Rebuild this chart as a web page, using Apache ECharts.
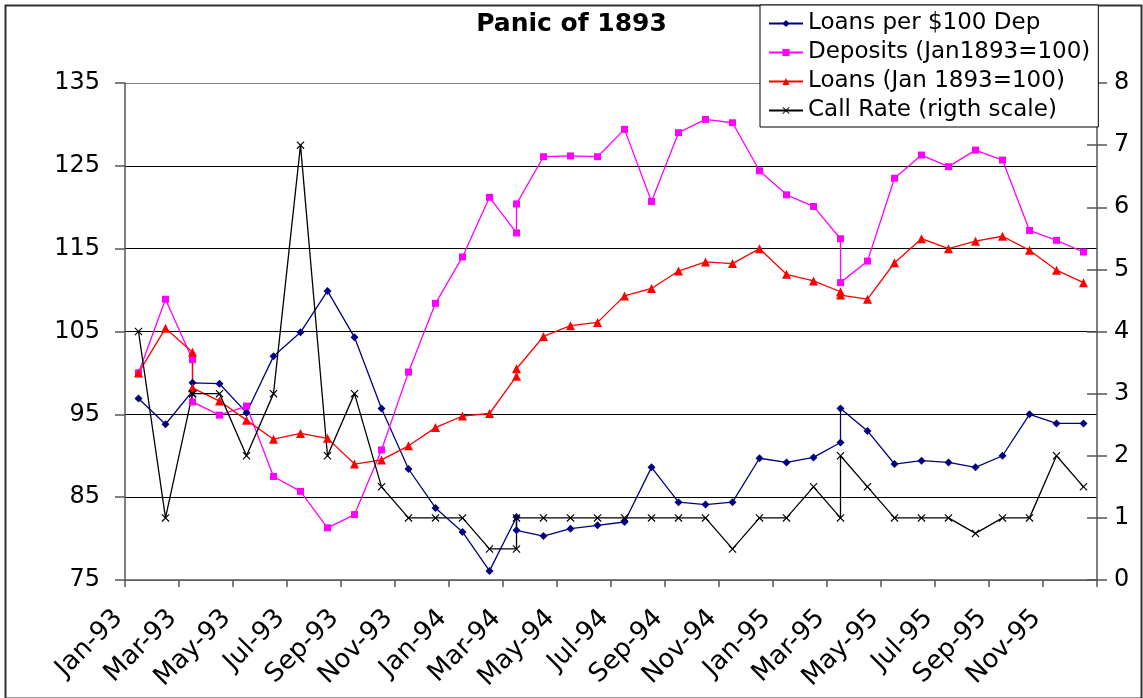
<!DOCTYPE html>
<html><head><meta charset="utf-8">
<script src="https://cdn.jsdelivr.net/npm/echarts@6/dist/echarts.min.js"></script>
<style>html,body{margin:0;padding:0;background:#fff}#chart{width:1143px;height:698px}</style>
</head><body><div id="chart"></div>
<script>
// Month buckets of the date axis (tick labels every second month)
const monthLabels = ['Jan-93','Feb-93','Mar-93','Apr-93','May-93','Jun-93','Jul-93','Aug-93','Sep-93','Oct-93','Nov-93','Dec-93',
  'Jan-94','Feb-94','Mar-94','Apr-94','May-94','Jun-94','Jul-94','Aug-94','Sep-94','Oct-94','Nov-94','Dec-94',
  'Jan-95','Feb-95','Mar-95','Apr-95','May-95','Jun-95','Jul-95','Aug-95','Sep-95','Oct-95','Nov-95','Dec-95'];
// Observation months (some months hold two observations)
const obsMonths = ['Jan-93','Feb-93','Mar-93','Mar-93','Apr-93','May-93','Jun-93','Jul-93','Aug-93','Sep-93','Oct-93','Nov-93','Dec-93',
  'Jan-94','Feb-94','Mar-94','Mar-94','Apr-94','May-94','Jun-94','Jul-94','Aug-94','Sep-94','Oct-94','Nov-94','Dec-94',
  'Jan-95','Feb-95','Mar-95','Mar-95','Apr-95','May-95','Jun-95','Jul-95','Aug-95','Sep-95','Oct-95','Nov-95','Dec-95'];
const loansPerDep = [96.9,93.8,97.8,98.8,98.7,95.2,102.0,104.9,109.9,104.3,95.7,88.4,83.7,
  80.8,76.1,82.6,81.0,80.3,81.2,81.6,82.0,88.6,84.4,84.1,84.4,89.7,
  89.2,89.8,91.6,95.7,93.0,89.0,89.4,89.2,88.6,90.0,95.0,93.9,93.9];
const deposits = [100.0,108.9,101.6,96.5,94.9,96.0,87.5,85.7,81.3,82.9,90.7,100.1,108.4,
  114.0,121.2,116.9,120.4,126.1,126.2,126.1,129.4,120.7,129.0,130.6,130.2,124.4,
  121.5,120.1,116.2,110.9,113.5,123.5,126.3,124.9,126.9,125.7,117.2,116.0,114.6];
const loans = [100.0,105.4,102.5,98.2,96.6,94.3,92.0,92.7,92.1,89.0,89.5,91.2,93.4,
  94.8,95.1,99.6,100.5,104.4,105.7,106.1,109.3,110.2,112.3,113.4,113.2,115.0,
  111.9,111.1,109.8,109.4,108.9,113.3,116.2,115.0,115.9,116.5,114.8,112.4,110.9];
const callRate = [4,1,3,3,3,2,3,7,2,3,1.5,1,1,
  1,0.5,0.5,1,1,1,1,1,1,1,1,0.5,1,
  1,1.5,1,2,1.5,1,1,1,0.75,1,1,2,1.5];
const seriesNames = ['Loans per $100 Dep','Deposits (Jan1893=100)','Loans (Jan 1893=100)','Call Rate (rigth scale)'];
const titleText = 'Panic of 1893';
const leftAxis = {min: 75, max: 135, interval: 10};
const rightAxis = {min: 0, max: 8, interval: 1};

const FONT = 'DejaVu Sans';
const xs = obsMonths.map(m => monthLabels.indexOf(m) + 0.5);
const pts = vals => vals.map((v, i) => [xs[i], v]);
const X_SYMBOL = 'path://M0,1L1,0L10,9L9,10Z M9,0L10,1L1,10L0,9Z';

const chart = echarts.init(document.getElementById('chart'), null, {renderer: 'canvas'});
const mkLine = (name, data, color, symbol, size, yIdx) => ({
  name, type: 'line', data: pts(data), yAxisIndex: yIdx,
  symbol, symbolSize: size, showSymbol: true,
  lineStyle: {color, width: 1.3},
  itemStyle: {color, borderColor: color, borderWidth: 0},
  emphasis: {disabled: true}, animation: false
});

chart.setOption({
  backgroundColor: '#fff',
  animation: false,
  title: {text: titleText, left: 'center', top: 7,
    textStyle: {fontFamily: FONT, fontSize: 25, fontWeight: 'bold', color: '#000'}},
  legend: {
    data: seriesNames, orient: 'vertical', left: 760, top: 5,
    padding: [7, 8, 5, 8], itemGap: 6, itemWidth: 34, itemHeight: 9,
    backgroundColor: '#fff', borderColor: '#000', borderWidth: 1, borderRadius: 0,
    textStyle: {fontFamily: FONT, fontSize: 23, color: '#000'}
  },
  grid: {left: 125, right: 46, top: 83, bottom: 118, containLabel: false, outerBoundsMode: 'none'},
  xAxis: {
    type: 'value', min: 0, max: monthLabels.length, interval: 2,
    axisLine: {show: true, lineStyle: {color: '#555', width: 1.5}},
    axisTick: {show: true, length: 7, lineStyle: {color: '#555', width: 1.5}},
    splitLine: {show: false},
    axisLabel: {rotate: 45, margin: 28, padding: [0, 9, 0, 0], fontFamily: FONT, fontSize: 26, color: '#000',
      showMaxLabel: true,
      formatter: v => (v < monthLabels.length ? monthLabels[Math.round(v)] : '')}
  },
  yAxis: [
    {type: 'value', position: 'left', min: leftAxis.min, max: leftAxis.max, interval: leftAxis.interval,
      axisLine: {show: true, lineStyle: {color: '#555', width: 1.5}},
      axisTick: {show: true, length: 10, lineStyle: {color: '#555', width: 1.5}},
      axisLabel: {margin: 25, fontFamily: FONT, fontSize: 24, color: '#000'},
      splitLine: {show: true, lineStyle: {color: ['#808080','#000','#000','#000','#000','#000','#808080'], width: 1.2}}},
    {type: 'value', position: 'right', min: rightAxis.min, max: rightAxis.max, interval: rightAxis.interval,
      axisLine: {show: true, lineStyle: {color: '#555', width: 1.5}},
      axisTick: {show: true, length: 10, lineStyle: {color: '#555', width: 1.5}},
      axisLabel: {margin: 17, fontFamily: FONT, fontSize: 24, color: '#000'},
      splitLine: {show: false}},
    {type: 'value', position: 'right', min: rightAxis.min, max: rightAxis.max, interval: rightAxis.interval,
      axisLine: {show: false},
      axisTick: {show: true, inside: true, length: 10, lineStyle: {color: '#555', width: 1.5}},
      axisLabel: {show: false}, splitLine: {show: false}}
  ],
  graphic: [{type: 'rect', left: 3, top: 3, silent: true, z: -10,
    shape: {width: 1136, height: 693}, style: {fill: null, stroke: '#333', lineWidth: 2}}],
  series: [
    mkLine(seriesNames[0], loansPerDep, '#000080', 'diamond', 8, 0),
    mkLine(seriesNames[1], deposits, '#FF00FF', 'rect', 7, 0),
    mkLine(seriesNames[2], loans, '#FF0000', 'triangle', 9, 0),
    mkLine(seriesNames[3], callRate, '#000000', X_SYMBOL, 8, 1)
  ]
});
</script></body></html>
